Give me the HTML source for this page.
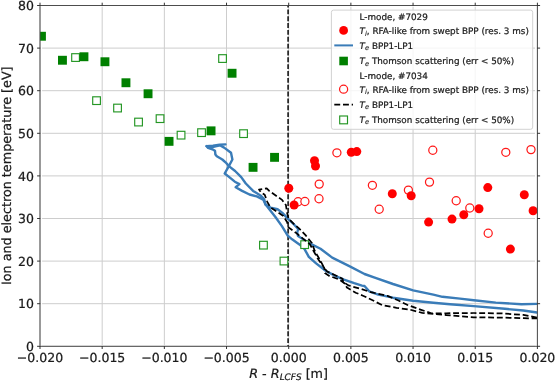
<!DOCTYPE html>
<html lang="en"><head><meta charset="utf-8"><title>Ion and electron temperature</title>
<style>html,body{margin:0;padding:0;background:#fff;overflow:hidden}svg{display:block;will-change:transform} text{font-family:"DejaVu Sans", "Liberation Sans", sans-serif;fill:#1a1a1a;text-rendering:geometricPrecision;stroke:#1a1a1a;stroke-width:0.22px}</style></head><body>
<svg width="556" height="382" viewBox="0 0 556 382">
<rect width="556" height="382" fill="#ffffff"/>
<defs><clipPath id="ax"><rect x="40.0" y="5.5" width="497.4" height="340.8"/></clipPath></defs>
<g stroke="#cdcdcd" stroke-width="1" fill="none">
<line x1="40.00" y1="6.7" x2="40.00" y2="345.1"/>
<line x1="102.18" y1="6.7" x2="102.18" y2="345.1"/>
<line x1="164.35" y1="6.7" x2="164.35" y2="345.1"/>
<line x1="226.53" y1="6.7" x2="226.53" y2="345.1"/>
<line x1="288.70" y1="6.7" x2="288.70" y2="345.1"/>
<line x1="350.88" y1="6.7" x2="350.88" y2="345.1"/>
<line x1="413.05" y1="6.7" x2="413.05" y2="345.1"/>
<line x1="475.23" y1="6.7" x2="475.23" y2="345.1"/>
<line x1="537.40" y1="6.7" x2="537.40" y2="345.1"/>
<line x1="42.1" y1="346.30" x2="535.0" y2="346.30"/>
<line x1="42.1" y1="303.70" x2="535.0" y2="303.70"/>
<line x1="42.1" y1="261.10" x2="535.0" y2="261.10"/>
<line x1="42.1" y1="218.50" x2="535.0" y2="218.50"/>
<line x1="42.1" y1="175.90" x2="535.0" y2="175.90"/>
<line x1="42.1" y1="133.30" x2="535.0" y2="133.30"/>
<line x1="42.1" y1="90.70" x2="535.0" y2="90.70"/>
<line x1="42.1" y1="48.10" x2="535.0" y2="48.10"/>
<line x1="42.1" y1="5.50" x2="535.0" y2="5.50"/>
</g>
<g clip-path="url(#ax)">
<line x1="288.1" y1="5.5" x2="288.1" y2="346.3" stroke="#1c1c1c" stroke-width="1.65" stroke-dasharray="4.9 1.95" stroke-dashoffset="2.95"/>
<g fill="none" stroke="#3a7cb8" stroke-width="2.4" stroke-linejoin="round" stroke-linecap="round">
<polyline points="225.5,144.4 219.6,144.7 213.0,145.8 206.6,146.1"/>
<polyline points="206.8,146.4 212.5,147.2 219.8,145.3 224.1,147.6 231.0,152.7 232.4,159.5 228.7,166.4 224.7,173.5 229.3,177.1 234.8,181.7 239.4,184.1 235.7,187.2 242.1,190.9 249.5,194.5 256.8,196.4 263.2,199.6 265.6,204.6 270.5,210.8 275.6,217.2 281.9,226.1 287.7,235.6 292.1,239.3 299.4,244.4 304.4,248.8 308.8,256.8 316.1,263.4 325.6,270.8 335.2,275.9 344.0,279.6 354.2,283.2 362.0,285.6 364.5,286.0 369.2,291.3 378.3,294.6 393.0,297.7 413.1,300.8 433.3,302.7 450.0,304.2 473.8,306.1 504.9,308.8 523.3,310.5 537.0,312.5"/>
<polyline points="206.6,146.1 208.1,147.9 213.2,149.7 215.0,150.8 215.4,154.5 216.8,156.3 222.3,159.5 226.4,163.2 229.2,166.4 235.1,171.0 241.2,177.1 245.8,183.5 253.1,190.9 260.4,195.4 264.1,199.0 265.4,204.4 270.5,207.6 277.6,209.2 282.1,212.6 288.1,218.9 294.0,224.5 298.2,229.0 297.2,232.5 298.0,236.0 302.0,238.5 308.8,242.9 320.5,248.8 332.2,257.6 349.8,266.4 364.5,274.0 374.7,277.6 393.0,284.0 413.1,290.4 433.3,294.6 442.4,296.8 460.0,298.6 473.8,300.2 495.8,302.6 521.4,304.2 537.0,303.9"/>
</g>
<g fill="#fff" stroke="#249624" stroke-width="1.15">
<rect x="71.7" y="53.7" width="7.7" height="7.7"/>
<rect x="92.7" y="96.8" width="7.7" height="7.7"/>
<rect x="113.7" y="104.2" width="7.7" height="7.7"/>
<rect x="134.7" y="118.2" width="7.7" height="7.7"/>
<rect x="156.2" y="114.8" width="7.7" height="7.7"/>
<rect x="177.2" y="131.3" width="7.7" height="7.7"/>
<rect x="197.7" y="128.8" width="7.7" height="7.7"/>
<rect x="218.7" y="54.7" width="7.7" height="7.7"/>
<rect x="239.7" y="129.8" width="7.7" height="7.7"/>
<rect x="259.6" y="241.3" width="7.7" height="7.7"/>
<rect x="280.1" y="257.2" width="7.7" height="7.7"/>
<rect x="300.8" y="240.8" width="7.7" height="7.7"/>
</g>
<g fill="#fff" stroke="#ff1a1a" stroke-width="1.25">
<circle cx="298.1" cy="201.7" r="4.05"/>
<circle cx="304.9" cy="201.5" r="4.05"/>
<circle cx="319.2" cy="184.1" r="4.05"/>
<circle cx="319.0" cy="198.7" r="4.05"/>
<circle cx="336.9" cy="152.8" r="4.05"/>
<circle cx="372.4" cy="185.3" r="4.05"/>
<circle cx="379.2" cy="209.2" r="4.05"/>
<circle cx="408.4" cy="190.1" r="4.05"/>
<circle cx="432.8" cy="150.2" r="4.05"/>
<circle cx="429.5" cy="182.1" r="4.05"/>
<circle cx="456.2" cy="200.7" r="4.05"/>
<circle cx="469.8" cy="208.0" r="4.05"/>
<circle cx="505.8" cy="152.3" r="4.05"/>
<circle cx="531.0" cy="149.6" r="4.05"/>
<circle cx="488.2" cy="233.2" r="4.05"/>
</g>
<g fill="none" stroke="#000" stroke-width="1.75" stroke-dasharray="5.9 2.8" stroke-linejoin="round">
<polyline points="537.0,317.6 523.3,314.9 501.3,313.4 473.8,313.0 460.0,313.0 446.1,313.3 431.4,313.3 420.4,309.6 407.6,305.0 398.5,300.5 387.5,295.9 371.0,292.2 361.5,289.1 348.4,285.4 343.2,281.8 342.5,278.8 335.2,275.2 327.1,271.5 324.2,267.8 319.4,259.0 314.9,251.2 311.9,243.0 305.3,234.9 298.7,228.1 294.9,224.9 288.5,218.5 287.2,213.3 285.9,205.0 282.1,199.9 269.2,190.9 266.7,188.3 259.0,189.6 260.9,192.2 264.7,194.7 267.3,201.8 270.5,207.6 275.6,210.8 283.3,215.9 287.2,222.3 288.5,227.4 295.8,232.7 303.8,239.3 309.8,244.0 313.6,251.0 318.4,259.6 324.2,267.8 324.9,273.0 329.3,275.9 339.6,279.6 345.4,284.0 346.9,287.6 355.7,292.7 363.0,295.7 371.0,299.5 382.0,305.0 396.6,307.8 411.3,310.0 422.3,312.9 433.3,313.8 446.1,315.1 460.0,316.2 473.8,317.3 501.3,317.6 523.3,318.2 537.0,318.5" stroke-dashoffset="0"/>
</g>
<g fill="#008000">
<rect x="37.0" y="31.8" width="8.9" height="8.9"/>
<rect x="58.0" y="55.8" width="8.9" height="8.9"/>
<rect x="79.5" y="52.3" width="8.9" height="8.9"/>
<rect x="100.5" y="57.3" width="8.9" height="8.9"/>
<rect x="121.5" y="78.3" width="8.9" height="8.9"/>
<rect x="143.6" y="89.3" width="8.9" height="8.9"/>
<rect x="164.6" y="136.9" width="8.9" height="8.9"/>
<rect x="206.6" y="126.4" width="8.9" height="8.9"/>
<rect x="227.6" y="68.8" width="8.9" height="8.9"/>
<rect x="248.6" y="162.9" width="8.9" height="8.9"/>
<rect x="270.1" y="152.9" width="8.9" height="8.9"/>
</g>
<g fill="#ff0000">
<circle cx="288.8" cy="188.3" r="4.5"/>
<circle cx="294.1" cy="205.0" r="4.5"/>
<circle cx="314.5" cy="160.8" r="4.5"/>
<circle cx="315.5" cy="166.0" r="4.5"/>
<circle cx="351.3" cy="152.3" r="4.5"/>
<circle cx="356.8" cy="151.6" r="4.5"/>
<circle cx="392.3" cy="193.7" r="4.5"/>
<circle cx="411.2" cy="195.7" r="4.5"/>
<circle cx="487.8" cy="187.6" r="4.5"/>
<circle cx="479.0" cy="208.8" r="4.5"/>
<circle cx="463.8" cy="214.8" r="4.5"/>
<circle cx="452.0" cy="219.1" r="4.5"/>
<circle cx="428.6" cy="222.1" r="4.5"/>
<circle cx="524.3" cy="194.8" r="4.5"/>
<circle cx="533.1" cy="210.8" r="4.5"/>
<circle cx="510.4" cy="249.1" r="4.5"/>
</g>
</g>
<rect x="40.0" y="5.5" width="497.4" height="340.8" fill="none" stroke="#4d4d4d" stroke-width="1"/>
<g stroke="#333" stroke-width="1">
<line x1="40.00" y1="346.0" x2="40.00" y2="349.00"/>
<line x1="40.00" y1="2.70" x2="40.00" y2="5.8"/>
<line x1="102.18" y1="346.0" x2="102.18" y2="349.00"/>
<line x1="102.18" y1="2.70" x2="102.18" y2="5.8"/>
<line x1="164.35" y1="346.0" x2="164.35" y2="349.00"/>
<line x1="164.35" y1="2.70" x2="164.35" y2="5.8"/>
<line x1="226.53" y1="346.0" x2="226.53" y2="349.00"/>
<line x1="226.53" y1="2.70" x2="226.53" y2="5.8"/>
<line x1="288.70" y1="346.0" x2="288.70" y2="349.00"/>
<line x1="288.70" y1="2.70" x2="288.70" y2="5.8"/>
<line x1="350.88" y1="346.0" x2="350.88" y2="349.00"/>
<line x1="350.88" y1="2.70" x2="350.88" y2="5.8"/>
<line x1="413.05" y1="346.0" x2="413.05" y2="349.00"/>
<line x1="413.05" y1="2.70" x2="413.05" y2="5.8"/>
<line x1="475.23" y1="346.0" x2="475.23" y2="349.00"/>
<line x1="475.23" y1="2.70" x2="475.23" y2="5.8"/>
<line x1="537.40" y1="346.0" x2="537.40" y2="349.00"/>
<line x1="537.40" y1="2.70" x2="537.40" y2="5.8"/>
<line x1="37.1" y1="346.30" x2="40.3" y2="346.30"/>
<line x1="537.1" y1="346.30" x2="540.10" y2="346.30"/>
<line x1="37.1" y1="303.70" x2="40.3" y2="303.70"/>
<line x1="537.1" y1="303.70" x2="540.10" y2="303.70"/>
<line x1="37.1" y1="261.10" x2="40.3" y2="261.10"/>
<line x1="537.1" y1="261.10" x2="540.10" y2="261.10"/>
<line x1="37.1" y1="218.50" x2="40.3" y2="218.50"/>
<line x1="537.1" y1="218.50" x2="540.10" y2="218.50"/>
<line x1="37.1" y1="175.90" x2="40.3" y2="175.90"/>
<line x1="537.1" y1="175.90" x2="540.10" y2="175.90"/>
<line x1="37.1" y1="133.30" x2="40.3" y2="133.30"/>
<line x1="537.1" y1="133.30" x2="540.10" y2="133.30"/>
<line x1="37.1" y1="90.70" x2="40.3" y2="90.70"/>
<line x1="537.1" y1="90.70" x2="540.10" y2="90.70"/>
<line x1="37.1" y1="48.10" x2="40.3" y2="48.10"/>
<line x1="537.1" y1="48.10" x2="540.10" y2="48.10"/>
<line x1="37.1" y1="5.50" x2="40.3" y2="5.50"/>
<line x1="537.1" y1="5.50" x2="540.10" y2="5.50"/>
</g>
<g font-size="12.5" text-anchor="middle">
<text x="40.00" y="361.6">−0.020</text>
<text x="102.18" y="361.6">−0.015</text>
<text x="164.35" y="361.6">−0.010</text>
<text x="226.53" y="361.6">−0.005</text>
<text x="288.70" y="361.6">0.000</text>
<text x="350.88" y="361.6">0.005</text>
<text x="413.05" y="361.6">0.010</text>
<text x="475.23" y="361.6">0.015</text>
<text x="537.40" y="361.6">0.020</text>
</g>
<g font-size="12.5" text-anchor="end">
<text x="33.9" y="351.00">0</text>
<text x="33.9" y="308.40">10</text>
<text x="33.9" y="265.80">20</text>
<text x="33.9" y="223.20">30</text>
<text x="33.9" y="180.60">40</text>
<text x="33.9" y="138.00">50</text>
<text x="33.9" y="95.40">60</text>
<text x="33.9" y="52.80">70</text>
<text x="33.9" y="10.20">80</text>
</g>
<text font-size="12.75" text-anchor="middle" transform="translate(11.0 175.7) rotate(-90)">Ion and electron temperature [eV]</text>
<text font-size="12.75" x="249.2" y="377.9"><tspan font-style="italic">R</tspan> - <tspan font-style="italic">R</tspan><tspan font-style="italic" font-size="8.92" dy="2.2">LCFS</tspan><tspan dy="-2.2"> [m]</tspan></text>
<rect x="331.4" y="10.1" width="201.30000000000007" height="119.20000000000002" rx="2.2" ry="2.2" fill="#ffffff" fill-opacity="0.8" stroke="#d2d2d2" stroke-width="1"/>
<g font-size="8.8">
<text x="359.6" y="20.1">L-mode, #7029</text>
<text x="359.6" y="34.0"><tspan font-style="italic">T</tspan><tspan font-style="italic" font-size="6.69" stroke-width="0.12" dy="1.6">i</tspan><tspan dy="-1.6">, RFA-like from swept BPP (res. 3 ms)</tspan></text>
<text x="359.6" y="48.7"><tspan font-style="italic">T</tspan><tspan font-style="italic" font-size="6.69" stroke-width="0.12" dy="1.6">e</tspan><tspan dy="-1.6"> BPP1-LP1</tspan></text>
<text x="359.6" y="63.9"><tspan font-style="italic">T</tspan><tspan font-style="italic" font-size="6.69" stroke-width="0.12" dy="1.6">e</tspan><tspan dy="-1.6"> Thomson scattering (err &lt; 50%)</tspan></text>
<text x="359.6" y="78.6">L-mode, #7034</text>
<text x="359.6" y="92.5"><tspan font-style="italic">T</tspan><tspan font-style="italic" font-size="6.69" stroke-width="0.12" dy="1.6">i</tspan><tspan dy="-1.6">, RFA-like from swept BPP (res. 3 ms)</tspan></text>
<text x="359.6" y="107.8"><tspan font-style="italic">T</tspan><tspan font-style="italic" font-size="6.69" stroke-width="0.12" dy="1.6">e</tspan><tspan dy="-1.6"> BPP1-LP1</tspan></text>
<text x="359.6" y="122.8"><tspan font-style="italic">T</tspan><tspan font-style="italic" font-size="6.69" stroke-width="0.12" dy="1.6">e</tspan><tspan dy="-1.6"> Thomson scattering (err &lt; 50%)</tspan></text>
</g>
<circle cx="343.6" cy="30.4" r="4.4" fill="#ff0000"/>
<line x1="334.3" y1="45.400000000000006" x2="353" y2="45.400000000000006" stroke="#3a7cb8" stroke-width="2"/>
<rect x="339.3" y="56.7" width="8.6" height="8.6" fill="#008000"/>
<circle cx="343.6" cy="89.2" r="4.05" fill="#fff" stroke="#ff1a1a" stroke-width="1.25"/>
<line x1="334.3" y1="104.5" x2="353" y2="104.5" stroke="#000" stroke-width="1.75" stroke-dasharray="5.9 2.8"/>
<rect x="339.70000000000005" y="115.99999999999999" width="7.8" height="7.8" fill="#fff" stroke="#249624" stroke-width="1.15"/>
</svg></body></html>
